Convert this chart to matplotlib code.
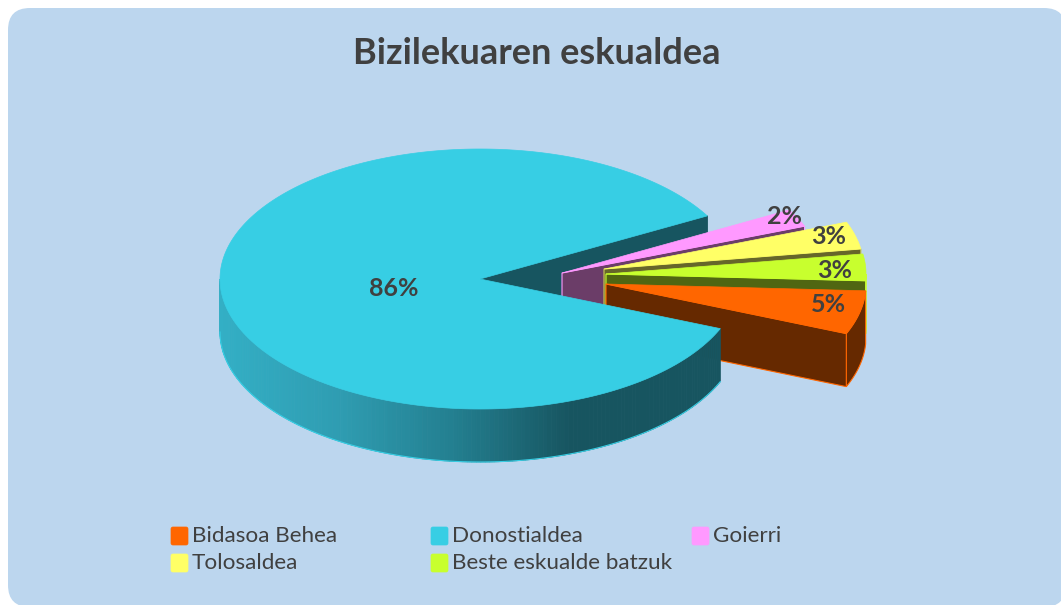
import matplotlib
matplotlib.use('Agg')
import matplotlib.pyplot as plt
from matplotlib.colors import LinearSegmentedColormap
from matplotlib.patches import FancyBboxPatch
import numpy as np

plt.rcParams['font.family'] = ['Lato', 'DejaVu Sans']

titulo = "Bizilekuaren eskualdea"
categorias = ["Bidasoa Behea", "Donostialdea", "Goierri", "Tolosaldea", "Beste eskualde batzuk"]
valores = [5.4, 85.7, 2.2, 3.4, 3.3]

cores_topo = ['#FF6600', '#37CEE4', '#FF99FF', '#FFFF66', '#C8FF2E']
cores_parede = ['#662900', '#175560', '#6B3D68', '#66662A', '#506612']
cores_borda = ['#FF6600', '#37CEE4', '#FF99FF', '#CCCC55', '#C8FF2E']

# centro de cada fatia em pixels da figura (a pizza esta explodida)
centros = [(606, 284), (480, 279), (562, 273), (604, 269), (606, 274)]
pos_rotulos = [(828, 305), (394, 288), (785, 217), (829, 237), (835, 271)]
pos_legenda = [(171, 536), (431, 536), (692, 536), (171, 563), (431, 563)]

RAIO_X = 260
RAIO_Y = 130
ALTURA = 53
ANGULO_INICIAL = -3

gradiente = LinearSegmentedColormap.from_list(
    'parede', ['#33AFC5', '#2F9DB2', '#237F90', '#175560', '#175560'])


def ponto(centro, ang):
    t = np.radians(ang)
    return centro[0] + RAIO_X * np.cos(t), centro[1] - RAIO_Y * np.sin(t)


def arco(centro, a1, a2, n=120):
    t = np.radians(np.linspace(a1, a2, n))
    return centro[0] + RAIO_X * np.cos(t), centro[1] - RAIO_Y * np.sin(t)


def parede_radial(ax, centro, ang, cor, borda, z):
    x, y = ponto(centro, ang)
    ax.fill([centro[0], x, x, centro[0]],
            [centro[1], y, y + ALTURA, centro[1] + ALTURA],
            facecolor=cor, edgecolor=borda, linewidth=0.8, zorder=z)


def parede_externa(ax, centro, a1, a2, cor, borda, z):
    # so a parte da frente (angulos abaixo de zero) aparece
    a1 = min(a1, 0)
    if a1 <= a2:
        return
    x, y = arco(centro, a1, a2, 40)
    ax.fill(np.r_[x, x[::-1]], np.r_[y, y[::-1] + ALTURA],
            facecolor=cor, edgecolor=borda, linewidth=0.8, zorder=z)


def topo(ax, centro, a1, a2, cor, z):
    x, y = arco(centro, a1, a2)
    ax.fill(np.r_[centro[0], x], np.r_[centro[1], y],
            facecolor=cor, edgecolor=cor, linewidth=0.5, zorder=z)


fig = plt.figure(figsize=(10.61, 6.05), dpi=100, facecolor='white')
ax = fig.add_axes([0, 0, 1, 1])
ax.set_xlim(0, 1061)
ax.set_ylim(605, 0)
ax.axis('off')

# fundo arredondado, sai um pouco da figura embaixo e a direita
ax.add_patch(FancyBboxPatch((8, 8), 1058, 599, boxstyle='round,pad=0,rounding_size=22',
                            facecolor='#BCD6EE', edgecolor='none', zorder=0))

# angulos das fatias, no sentido horario
total = sum(valores)
varreduras = [v / total * 360 for v in valores]
inicios = ANGULO_INICIAL - np.r_[0, np.cumsum(varreduras)[:-1]]
fins = inicios - np.array(varreduras)

# parede interna da fatia grande fica atras de tudo
parede_radial(ax, centros[1], fins[1] + 360, cores_parede[1], cores_parede[1], 1)

# fatias pequenas, de tras para frente
z = 2
for i in [2, 3, 4, 0]:
    a1 = (inicios[i] + 180) % 360 - 180
    a2 = (fins[i] + 180) % 360 - 180
    parede_externa(ax, centros[i], a1, a2, cores_parede[i], cores_borda[i], z)
    parede_radial(ax, centros[i], a2, cores_parede[i], cores_borda[i], z + 1)
    topo(ax, centros[i], a1, a2, cores_topo[i], z + 2)
    z += 3

# parede externa da fatia grande com gradiente
c = centros[1]
angulos = np.linspace(180, inicios[1] + 360, 160)
for a, b in zip(angulos[:-1], angulos[1:]):
    x, y = arco(c, a, b, 3)
    frac = (x.mean() - (c[0] - RAIO_X)) / (2 * RAIO_X * 0.9)
    cor = gradiente(min(float(frac), 1.0))
    ax.fill(np.r_[x, x[::-1]], np.r_[y, y[::-1] + ALTURA],
            facecolor=cor, edgecolor=cor, linewidth=0.6, zorder=z)
x, y = arco(c, 180, inicios[1] + 360)
ax.plot(x, y + ALTURA, color='#37CEE4', linewidth=0.8, zorder=z)
x, y = arco(c, fins[1] + 360, inicios[1] + 360, 400)
ax.fill(np.r_[c[0], x], np.r_[c[1], y], facecolor=cores_topo[1],
        edgecolor=cores_topo[1], linewidth=0.5, zorder=z + 1)

# rotulos de porcentagem
for v, (lx, ly) in zip(valores, pos_rotulos):
    ax.text(lx, ly, f"{round(v)}%", fontsize=18, fontweight='bold', color='#404040',
            ha='center', va='center', zorder=z + 2)

ax.text(537, 53, titulo, fontsize=26, fontweight='bold', color='#404040',
        ha='center', va='center', zorder=z + 2)

# legenda
for nome, cor, (lx, ly) in zip(categorias, cores_topo, pos_legenda):
    ax.add_patch(FancyBboxPatch((lx, ly - 9), 17, 18, boxstyle='round,pad=0,rounding_size=2',
                                facecolor=cor, edgecolor=cor, linewidth=0.5, zorder=z + 2))
    ax.text(lx + 21, ly, nome, fontsize=16.2, color='#404040', ha='left', va='center', zorder=z + 2)

fig.savefig('out.png', dpi=100)
